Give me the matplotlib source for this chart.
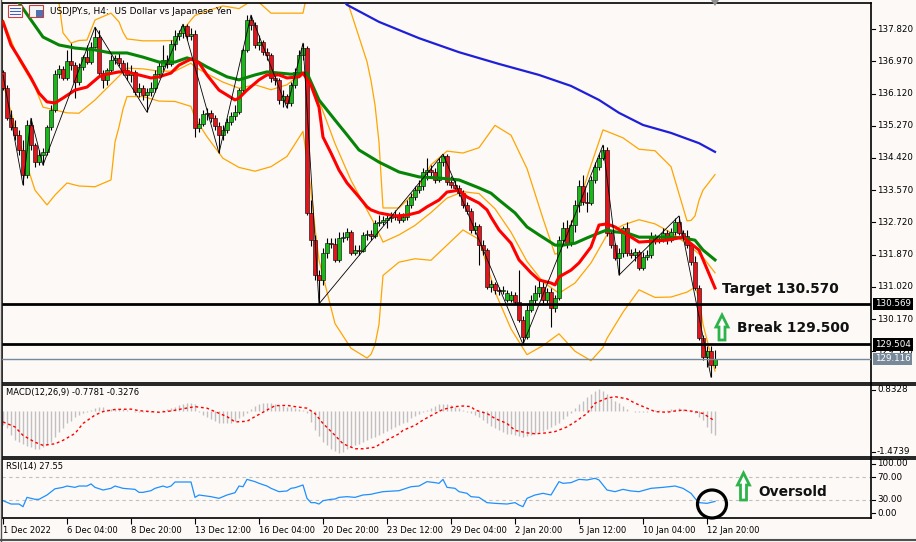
import matplotlib
matplotlib.use("Agg")
import numpy as np
import matplotlib.pyplot as plt
from matplotlib.patches import Polygon, Ellipse, Rectangle
from matplotlib.lines import Line2D
from matplotlib.transforms import blended_transform_factory

# ---------------- data (USDJPY.s H4) ----------------
opens = [136.69,136.27,135.47,135.24,135.03,134.63,133.97,135.29,134.76,134.31,
         134.50,134.58,135.24,135.69,136.63,136.77,136.53,136.98,136.87,136.42,
         136.82,137.08,136.95,137.35,137.61,136.66,136.48,136.74,137.00,137.06,
         136.93,136.74,136.61,136.69,136.16,136.27,136.08,136.16,136.27,136.63,
         136.85,137.00,136.90,137.43,137.64,137.72,137.90,137.64,137.69,135.21,
         135.32,135.58,135.61,135.47,135.26,135.03,135.16,135.37,135.53,135.63,
         136.21,137.27,138.06,137.93,137.40,137.48,137.21,137.14,136.53,136.48,
         135.95,136.05,135.87,136.34,136.69,137.14,137.32,132.97,132.25,131.33,
         131.20,131.91,132.17,132.15,131.73,132.31,132.33,132.47,131.91,131.99,
         131.96,132.39,132.41,132.36,132.70,132.73,132.78,132.84,132.86,132.91,
         132.78,132.86,133.18,133.39,133.57,133.68,134.05,134.10,134.05,133.84,
         134.31,134.47,133.79,133.71,133.63,133.49,133.18,133.02,132.52,132.62,
         132.12,131.99,131.01,131.09,130.94,130.91,130.67,130.67,130.80,130.62,
         130.14,129.70,130.41,130.67,130.86,131.01,130.67,130.88,130.46,130.73,
         132.25,132.57,132.17,132.65,133.18,133.68,133.26,133.23,133.84,134.18,
         134.42,134.63,132.44,132.12,131.78,131.91,132.57,131.91,131.86,131.94,
         131.52,131.81,131.86,132.33,132.25,132.28,132.44,132.25,132.47,132.73,
         132.44,132.36,132.12,131.67,130.99,129.67,129.17,129.33,128.96]
highs = [136.74,136.34,135.69,135.42,135.16,134.89,135.42,135.47,134.81,134.63,
         134.68,135.29,135.82,136.74,136.87,136.85,137.27,137.45,136.95,136.93,
         137.14,137.40,137.48,137.87,137.80,136.74,136.79,137.14,137.14,137.21,
         137.00,136.95,136.87,136.74,136.40,136.34,136.27,136.42,136.74,136.95,
         137.40,137.14,137.53,137.80,137.80,137.95,137.95,137.85,137.80,135.47,
         135.69,135.74,135.69,135.55,135.37,135.29,135.47,135.63,135.82,136.27,
         137.32,138.19,138.19,138.01,137.66,137.53,137.32,137.19,136.69,136.53,
         136.21,136.11,136.42,136.79,137.27,137.45,137.37,133.31,132.39,131.46,
         132.04,132.31,132.31,132.31,132.47,132.47,132.57,132.52,132.12,132.12,
         132.47,132.52,132.52,132.78,132.91,132.89,132.94,132.99,133.05,132.99,
         132.97,133.31,133.49,133.68,133.84,134.15,134.42,134.23,134.15,134.42,
         134.52,134.52,133.94,133.89,133.71,133.57,133.26,133.10,132.73,132.68,
         132.25,132.04,131.20,131.15,131.01,131.04,130.94,130.91,130.88,131.46,
         130.25,130.54,130.80,131.07,131.20,131.15,130.99,130.99,130.80,132.36,
         132.73,132.78,132.78,133.31,133.84,133.97,133.52,133.94,134.31,134.52,
         134.76,134.71,132.52,132.17,132.04,132.62,132.73,132.02,132.04,131.99,
         131.94,131.99,132.47,132.41,132.39,132.57,132.52,132.57,132.84,132.89,
         132.52,132.52,132.17,131.83,131.07,129.75,129.46,129.46,129.35]
lows = [136.21,135.42,135.16,134.89,134.50,133.71,133.89,134.63,134.18,134.23,
        134.23,134.50,135.16,135.63,136.53,136.48,136.48,136.74,136.00,136.34,
        136.74,136.90,136.90,137.32,136.58,136.27,136.34,136.69,136.90,136.85,
        136.61,136.48,136.42,136.08,136.03,135.95,135.63,136.05,136.16,136.53,
        136.74,136.79,136.85,137.27,137.53,137.58,137.53,137.53,134.97,135.10,
        135.26,135.42,135.37,135.16,134.55,134.89,135.08,135.29,135.42,135.58,
        136.13,137.21,137.80,137.32,137.27,137.14,137.00,136.42,136.34,135.84,
        135.76,135.74,135.79,136.27,136.61,137.00,132.91,132.10,131.20,130.57,
        131.07,131.78,132.04,131.67,131.67,132.20,132.25,131.86,131.86,131.86,
        131.94,132.25,132.25,132.31,132.62,132.65,132.57,132.73,132.78,132.70,
        132.73,132.78,133.10,133.31,133.49,133.57,133.84,133.94,133.76,133.79,
        134.21,133.71,133.63,133.57,133.42,133.10,132.94,132.44,132.41,131.60,
        131.86,130.96,130.88,130.83,130.80,130.83,130.62,130.62,130.57,130.09,
        129.50,129.64,130.36,130.57,130.75,130.59,130.59,129.96,130.36,130.67,
        132.12,132.04,132.10,132.47,132.99,133.18,132.99,133.18,133.76,134.10,
        134.37,132.36,132.04,131.73,131.33,131.81,131.83,131.78,131.70,131.46,
        131.46,131.73,131.78,132.15,132.17,132.20,132.15,132.20,132.39,132.39,
        132.25,132.04,131.60,130.94,129.62,129.09,128.90,128.64,128.88]
closes = [136.27,135.47,135.24,135.03,134.63,133.97,135.29,134.76,134.31,134.50,
          134.58,135.24,135.69,136.63,136.77,136.53,136.98,136.87,136.42,136.82,
          137.08,136.95,137.35,137.61,136.66,136.48,136.74,137.00,137.06,136.93,
          136.74,136.61,136.69,136.16,136.27,136.08,136.16,136.27,136.63,136.85,
          137.00,136.90,137.43,137.64,137.72,137.90,137.64,137.69,135.21,135.32,
          135.58,135.61,135.47,135.26,135.03,135.16,135.37,135.53,135.63,136.21,
          137.27,138.06,137.93,137.40,137.48,137.21,137.14,136.53,136.48,135.95,
          136.05,135.87,136.34,136.69,137.14,137.32,132.97,132.25,131.33,131.20,
          131.91,132.17,132.15,131.73,132.31,132.33,132.47,131.91,131.99,131.96,
          132.39,132.41,132.36,132.70,132.73,132.78,132.84,132.86,132.91,132.78,
          132.86,133.18,133.39,133.57,133.68,134.05,134.10,134.05,133.84,134.31,
          134.47,133.79,133.71,133.63,133.49,133.18,133.02,132.52,132.62,132.12,
          131.99,131.01,131.09,130.94,130.91,130.94,130.86,130.80,130.62,130.14,
          129.70,130.41,130.67,130.86,131.01,130.67,130.88,130.46,130.73,132.25,
          132.57,132.17,132.65,133.18,133.68,133.26,133.23,133.84,134.18,134.42,
          134.63,132.44,132.12,131.78,131.91,132.57,131.91,131.86,131.94,131.52,
          131.81,131.86,132.33,132.25,132.28,132.44,132.25,132.47,132.73,132.44,
          132.36,132.12,131.67,130.99,129.67,129.17,129.33,128.96,129.116]

# moving averages, sampled (bar index, price)
red_idx = [0,2,4,7,9,11,13,15,18,21,24,25,29,31,34,37,39,42,44,47,49,51,54,58,59,61,64,66,
           69,71,74,75,77,79,80,82,84,86,89,91,92,94,98,101,104,106,109,111,114,116,119,121,
           122,124,127,129,132,134,137,138,139,142,144,147,149,151,153,159,166,170,174,178]
red_val = [138.01,137.40,137.06,136.53,136.13,135.90,135.87,136.00,136.21,136.29,136.56,136.61,
           136.69,136.69,136.61,136.53,136.56,136.66,136.87,137.03,136.93,136.61,136.21,135.95,
           136.00,136.21,136.48,136.61,136.61,136.53,136.56,136.66,136.34,135.76,134.97,134.55,
           134.10,133.76,133.39,133.13,133.05,132.97,132.89,132.91,132.99,133.13,133.31,133.52,
           133.57,133.39,133.23,133.05,132.86,132.52,132.17,131.73,131.39,131.20,131.12,131.07,
           131.28,131.46,131.65,132.07,132.65,132.68,132.60,132.20,132.25,132.33,131.99,130.99]
green_idx = [0,4,7,10,14,18,23,27,31,35,39,43,46,48,51,56,59,63,66,69,72,76,79,83,86,89,94,99,
             104,109,114,119,122,124,128,131,134,138,140,143,146,149,151,153,156,159,166,170,
             173,175,178]
green_val = [138.98,138.51,138.06,137.61,137.40,137.32,137.27,137.19,137.19,137.08,136.95,136.95,
             137.06,137.00,136.82,136.56,136.48,136.61,136.69,136.66,136.63,136.66,135.95,135.42,
             135.03,134.63,134.31,134.05,133.92,133.89,133.84,133.63,133.49,133.31,132.97,132.60,
             132.39,132.12,132.12,132.17,132.31,132.44,132.52,132.47,132.44,132.33,132.33,132.31,
             132.25,131.99,131.73]
blue_idx = [84,86,94,104,114,124,134,142,149,154,160,167,174,178]
blue_val = [138.70,138.46,138.01,137.58,137.21,136.90,136.61,136.32,135.95,135.61,135.29,135.08,
            134.81,134.58]

# Bollinger bands (20, 2), sampled
bb_up_idx = [0,12,14,15,17,19,21,23,27,29,30,31,35,39,43,47,48,51,55,59,63,67,71,75,76,77,78,79,
             83,87,91,92,93,94,95,99,103,107,111,115,119,123,127,131,135,138,139,143,147,150,151,
             155,159,163,167,171,172,173,174,175,178]
bb_up_val = [139.64,138.85,138.51,137.72,137.45,137.52,137.53,138.06,138.24,138.01,137.74,137.56,
             137.51,137.51,137.52,138.06,138.18,138.30,138.43,138.36,138.62,138.24,138.24,138.24,
             138.75,139.25,139.79,140.14,139.54,138.26,136.96,136.46,135.82,134.83,133.10,133.10,
             133.51,134.24,134.60,134.55,134.69,135.28,135.02,134.14,132.82,131.88,131.92,132.93,
             134.23,135.16,135.12,134.95,134.65,134.61,134.19,132.76,132.77,132.89,133.30,133.57,
             133.98]
bb_mid_idx = [0,4,8,10,16,19,23,27,31,35,39,43,47,48,51,55,59,63,67,71,75,76,77,78,79,83,87,91,
              93,95,99,103,107,111,115,119,123,127,131,135,139,143,147,151,155,159,163,167,171,
              175,178]
bb_mid_val = [138.06,137.00,136.29,135.76,135.61,135.60,135.95,136.37,136.79,136.77,136.71,136.71,
              136.92,136.82,136.64,136.42,136.26,136.35,136.22,136.35,136.68,136.56,136.40,136.18,
              135.93,134.80,133.83,133.05,132.65,132.20,132.39,132.64,132.98,133.36,133.53,133.48,
              133.08,132.46,131.69,131.15,130.85,131.12,131.65,132.39,132.65,132.79,132.68,132.45,
              132.15,131.80,131.39]
bb_dn_idx = [0,3,5,8,11,13,16,19,23,27,28,29,30,31,35,39,43,47,48,51,55,59,63,67,71,75,76,77,78,
             79,83,87,91,92,93,94,95,99,103,107,111,115,119,123,127,131,135,139,143,147,150,151,
             155,159,163,167,171,173,174,175,178]
bb_dn_val = [136.40,135.24,134.55,133.57,133.18,133.44,133.76,133.68,133.66,133.84,134.84,135.24,
             135.71,136.04,136.04,135.92,135.91,135.78,135.47,134.98,134.41,134.17,134.07,134.19,
             134.46,135.12,134.37,133.54,132.57,131.72,130.05,129.40,129.14,129.24,129.49,130.03,
             131.32,131.67,131.76,131.72,132.12,132.52,132.27,130.89,129.91,129.23,129.47,129.78,
             129.32,129.07,129.42,129.66,130.35,130.94,130.74,130.75,130.88,131.01,130.72,130.03,
             128.80]

# zigzag turning points
zz_idx = [0,5,7,10,23,36,45,54,62,71,75,79,110,130,150,154,169,177]
zz_val = [136.61,133.71,135.47,134.23,137.87,135.63,137.95,134.55,138.19,135.74,137.45,130.57,
          134.52,129.50,134.76,131.33,132.89,128.64]

# MACD(12,26,9): main per bar, signal sampled
macd_main = [-0.45,-0.56,-0.78,-0.92,-1.00,-1.05,-1.13,-1.16,-1.21,-1.21,
             -1.16,-1.10,-1.00,-0.83,-0.67,-0.53,-0.40,-0.31,-0.20,-0.13,
             -0.08,-0.02,0.03,0.11,0.14,0.12,0.07,0.05,0.06,0.07,
             0.05,0.03,0.01,-0.02,-0.02,-0.03,-0.02,-0.02,0.00,0.01,
             0.03,0.05,0.09,0.14,0.20,0.23,0.25,0.27,0.23,-0.02,
             -0.13,-0.20,-0.27,-0.31,-0.37,-0.40,-0.40,-0.37,-0.31,-0.24,
             -0.16,-0.05,0.05,0.16,0.23,0.27,0.27,0.25,0.23,0.20,
             0.17,0.14,0.12,0.09,0.06,0.03,-0.08,-0.35,-0.62,-0.81,
             -1.00,-1.10,-1.21,-1.27,-1.35,-1.30,-1.21,-1.16,-1.10,-1.05,
             -1.00,-0.94,-0.88,-0.82,-0.76,-0.70,-0.63,-0.57,-0.51,-0.45,
             -0.40,-0.35,-0.24,-0.16,-0.11,-0.02,0.03,0.10,0.16,0.21,
             0.22,0.22,0.19,0.14,0.09,0.03,-0.02,-0.08,-0.13,-0.19,
             -0.29,-0.40,-0.48,-0.55,-0.62,-0.67,-0.73,-0.75,-0.78,-0.81,
             -0.82,-0.79,-0.76,-0.73,-0.68,-0.63,-0.57,-0.52,-0.46,-0.37,
             -0.27,-0.16,-0.05,0.09,0.21,0.33,0.44,0.54,0.63,0.72,
             0.63,0.54,0.43,0.33,0.25,0.16,0.07,0.01,-0.02,-0.03,
             -0.03,-0.02,0.01,0.03,0.03,0.01,0.03,0.05,0.07,0.09,
             0.07,0.03,-0.02,-0.08,-0.19,-0.29,-0.51,-0.70,-0.7781]
sig_idx = [0,3,5,8,10,13,15,18,20,23,25,28,32,34,37,39,42,44,48,51,53,56,58,61,63,66,68,71,73,
           76,78,80,83,85,88,90,93,95,99,100,103,105,108,110,113,115,117,118,121,123,126,128,131,
           133,136,138,141,143,146,148,151,153,156,158,161,163,166,168,170,173,175,177,178]
sig_val = [-0.35,-0.51,-0.78,-1.00,-1.10,-1.05,-0.94,-0.72,-0.40,-0.13,-0.02,0.05,0.06,0.01,-0.02,
           -0.04,0.00,0.05,0.14,0.09,-0.02,-0.18,-0.35,-0.33,-0.18,0.03,0.17,0.18,0.14,0.09,-0.08,
           -0.40,-0.78,-1.05,-1.21,-1.21,-1.16,-1.00,-0.73,-0.62,-0.46,-0.29,-0.08,0.05,0.14,0.16,
           0.14,0.03,-0.08,-0.24,-0.40,-0.62,-0.70,-0.73,-0.70,-0.66,-0.51,-0.35,-0.08,0.25,0.41,
           0.46,0.39,0.25,0.09,-0.02,-0.04,0.00,0.03,-0.02,-0.08,-0.24,-0.3276]

# RSI(14), sampled
rsi_idx = [0,2,4,5,6,8,9,11,13,15,16,18,19,21,22,23,25,27,28,30,33,34,35,37,38,40,41,42,43,47,48,
           49,52,54,56,58,59,60,61,63,64,66,67,68,69,71,72,73,75,76,77,78,79,80,82,83,84,86,88,90,
           92,93,95,99,102,104,106,108,109,110,111,113,114,116,117,119,121,123,126,128,129,130,131,
           133,135,137,139,140,142,144,146,148,149,151,153,155,157,159,162,165,168,170,172,173,174,
           176,178]
rsi_val = [28.8,23.0,23.0,18.4,34.6,31.2,31.2,38.7,49.5,52.0,54.3,52.0,54.3,54.3,58.0,52.0,47.4,
           50.3,54.3,50.3,48.5,43.3,43.3,46.2,50.3,54.3,52.0,54.3,61.3,61.3,34.6,38.7,35.8,32.9,
           38.7,42.7,54.3,53.1,65.9,61.9,59.0,54.3,50.3,47.4,44.5,45.7,50.3,51.4,56.1,32.9,25.4,
           25.4,23.0,28.8,31.2,31.7,34.6,35.8,34.6,38.7,39.9,41.6,44.5,46.2,53.1,54.3,61.9,60.2,
           59.0,65.9,52.0,50.3,44.5,41.6,35.8,34.6,25.4,24.2,23.0,25.4,21.3,18.4,32.9,38.7,41.6,
           38.7,61.9,59.0,60.2,65.9,64.8,67.7,64.8,47.4,44.5,48.5,45.7,44.5,50.3,52.0,54.3,50.3,
           41.6,32.9,25.4,24.2,27.55]

price_ticks = [137.82,136.97,136.12,135.27,134.42,133.57,132.72,131.87,131.02,130.17,129.32]
date_idx = [0,16,32,48,64,80,96,112,128,144,160,176]
date_labels = ["1 Dec 2022","6 Dec 04:00","8 Dec 20:00","13 Dec 12:00","16 Dec 04:00",
               "20 Dec 20:00","23 Dec 12:00","29 Dec 04:00","2 Jan 20:00","5 Jan 12:00",
               "10 Jan 04:00","12 Jan 20:00"]
target_level = 130.569
break_level = 129.504
last_price = 129.116

# ---------------- figure ----------------
W, H = 916, 542
BG = '#fcf9f7'
RIGHT = 871
fig = plt.figure(figsize=(W / 100, H / 100), dpi=100)
fig.patch.set_facecolor(BG)
plt.rcParams['font.family'] = ['DejaVu Sans']


def fx(x):
    return x / W


def fy(y):
    return 1 - y / H


def panel(top, bottom):
    a = fig.add_axes([fx(2), fy(bottom), fx(RIGHT) - fx(2), fy(top) - fy(bottom)])
    a.set_facecolor(BG)
    a.set_xlim(-0.25, (RIGHT - 3) / 4)
    a.set_yticks([])
    for s in a.spines.values():
        s.set_linewidth(1.2)
        s.set_color('black')
    return a


ax = panel(3, 383)
ax_m = panel(385, 457)
ax_r = panel(459, 518)

# ---- main price panel ----
bars = np.arange(len(closes))
o = np.array(opens)
c = np.array(closes)
up = c >= o
body_lo = np.minimum(o, c)
body_h = np.maximum(np.abs(c - o), 0.012)

for bi, bv in [(bb_up_idx, bb_up_val), (bb_mid_idx, bb_mid_val), (bb_dn_idx, bb_dn_val)]:
    ax.plot(bi, bv, color='#ffa500', lw=0.9, zorder=1)

ax.vlines(bars, lows, highs, color='black', lw=0.8, zorder=2)
ax.bar(bars, body_h, bottom=body_lo, width=0.78,
       color=np.where(up, '#18b818', '#e3141b'), edgecolor='black', linewidth=0.4, zorder=3)

ax.plot(blue_idx, blue_val, color='#1f1fd8', lw=1.6, zorder=4)
ax.plot(green_idx, green_val, color='#068406', lw=2.2, zorder=4)
ax.plot(red_idx, red_val, color='#ff0000', lw=2.2, zorder=4)
ax.plot(zz_idx, zz_val, color='black', lw=0.6, zorder=5)

ax.axhline(target_level, color='black', lw=2, zorder=6)
ax.axhline(break_level, color='black', lw=2, zorder=6)
ax.axhline(last_price, color='#778899', lw=1, zorder=6)

ax.set_ylim(128.482, 138.508)
ax.set_xticks([])

# price scale: ticks a little right of the frame, as in the terminal
tr = blended_transform_factory(fig.transFigure, ax.transData)
for t in price_ticks:
    fig.add_artist(Line2D([fx(RIGHT + 1), fx(RIGHT + 4)], [t, t], transform=tr, color='black', lw=0.8))
    fig.text(fx(877), t, '%.3f' % t, transform=tr, fontsize=6.3, va='center', ha='left')

# ---- MACD panel ----
ax_m.vlines(bars, 0, macd_main, color='#c0c0c0', lw=1)
ax_m.plot(sig_idx, sig_val, color='#ff0000', lw=1, linestyle=(0, (2, 2)))
ax_m.set_ylim(-1.4739, 0.8328)
ax_m.set_xticks([])

# ---- RSI panel ----
ax_r.axhline(70, color='#c0c0c0', lw=0.8, linestyle=(0, (3, 3)))
ax_r.axhline(30, color='#c0c0c0', lw=0.8, linestyle=(0, (3, 3)))
ax_r.plot(rsi_idx, rsi_val, color='#1e90ff', lw=0.9)
ax_r.set_ylim(-1.3, 101.3)
ax_r.set_xticks(date_idx)
ax_r.set_xticklabels(date_labels, ha='left', fontsize=6.0)
ax_r.tick_params(axis='x', length=4, width=0.8, pad=2)

# ---- right-hand indicator labels ----
for txt, y in [('0.8328', 390), ('-1.4739', 452), ('100.00', 464), ('70.00', 477),
               ('30.00', 500), ('0.00', 513)]:
    fig.add_artist(Line2D([fx(RIGHT + 1), fx(RIGHT + 4)], [fy(y), fy(y)],
                          transform=fig.transFigure, color='black', lw=0.8))
    fig.text(fx(877), fy(y), txt, fontsize=6.3, va='center', ha='left')

# price boxes
for val, bg in [(target_level, 'black'), (break_level, 'black'), (last_price, '#778899')]:
    fig.text(fx(875), val, '%.3f' % val, transform=tr, fontsize=6.3, va='center', ha='left',
             color='white', bbox=dict(boxstyle='square,pad=0.2', fc=bg, ec='none'), zorder=10)

# panel captions
fig.text(fx(50), fy(11), 'USDJPY.s, H4:  US Dollar vs Japanese Yen', fontsize=6.5, va='center')
fig.text(fx(6), fy(393), 'MACD(12,26,9) -0.7781 -0.3276', fontsize=6.0, va='center')
fig.text(fx(6), fy(467), 'RSI(14) 27.55', fontsize=6.0, va='center')

# little window icons in title bar
fig.add_artist(Rectangle((fx(8), fy(17)), fx(14), 12 / H, transform=fig.transFigure,
                         fc='white', ec='#d04040', lw=0.8))
for yy in (8, 11, 14):
    fig.add_artist(Line2D([fx(10), fx(20)], [fy(yy), fy(yy)], transform=fig.transFigure,
                          color='#4060c0', lw=0.8))
fig.add_artist(Rectangle((fx(29), fy(17)), fx(14), 12 / H, transform=fig.transFigure,
                         fc='#f4f4f4', ec='#c04040', lw=0.8))
fig.add_artist(Rectangle((fx(36), fy(17)), fx(7), 7 / H, transform=fig.transFigure,
                         fc='#5070b0', ec='none'))

# annotations
bold = dict(fontweight='bold', color='#111111', va='center', ha='left')
fig.text(fx(722), fy(289), 'Target 130.570', fontsize=9.9, **bold)
fig.text(fx(737), fy(328), 'Break 129.500', fontsize=9.9, **bold)
fig.text(fx(758), fy(492), 'Oversold', fontsize=9.9, **bold)


def up_arrow(cx, top, bottom):
    head = top + 12
    pts = [(cx, top), (cx + 6, head), (cx + 3, head), (cx + 3, bottom), (cx - 3, bottom),
           (cx - 3, head), (cx - 6, head)]
    fig.add_artist(Polygon([(fx(px), fy(py)) for px, py in pts], closed=True,
                           transform=fig.transFigure, fc='white', ec='#2db34a', lw=2, zorder=11))


up_arrow(722, 315, 340)
up_arrow(743.5, 473, 500)

fig.add_artist(Ellipse((fx(712), fy(504)), 29 / W, 28 / H, transform=fig.transFigure,
                       fill=False, ec='black', lw=2.3, zorder=12))

# chart shift marker and frame lines
fig.add_artist(Polygon([(fx(711), fy(0)), (fx(719), fy(0)), (fx(715), fy(6))], closed=True,
                       transform=fig.transFigure, fc='#909090', ec='none'))
for yy in (383, 385, 457, 459):
    fig.add_artist(Line2D([fx(RIGHT), fx(916)], [fy(yy), fy(yy)], transform=fig.transFigure,
                          color='black', lw=1.2))
fig.add_artist(Line2D([0, 1], [fy(540), fy(540)], transform=fig.transFigure,
                      color='#505050', lw=1.5))
fig.add_artist(Line2D([fx(0.5), fx(0.5)], [fy(0), fy(541)], transform=fig.transFigure,
                      color='#505050', lw=1))

fig.savefig('out.png', dpi=100, facecolor=BG)
